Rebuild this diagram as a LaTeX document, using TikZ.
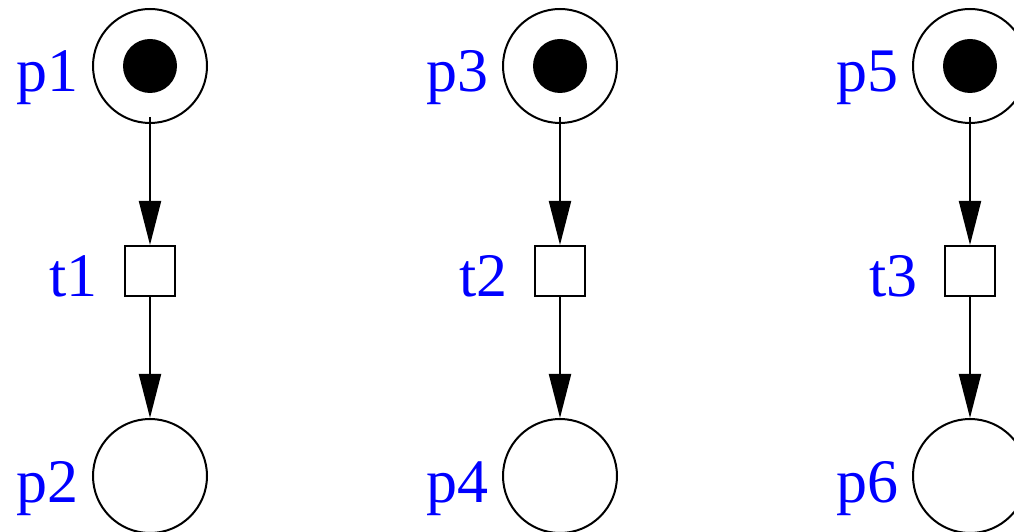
\documentclass[tikz,border=0pt]{standalone}
\usepackage{fontspec}
\setmainfont{Liberation Serif}
\usetikzlibrary{arrows.meta}
\tikzset{
  place/.style={circle, draw, line width=2bp, minimum size=114bp, inner sep=0pt},
  token/.style={circle, fill=black, minimum size=54bp, inner sep=0pt},
  trans/.style={rectangle, draw, line width=2bp, minimum size=50bp, inner sep=0pt},
  lbl/.style={text=blue, inner sep=0pt, anchor=base east, font=\fontsize{62.2}{70}\selectfont},
  arc/.style={line width=2bp, -{Triangle[length=44bp, width=22bp]}},
}
\begin{document}
\begin{tikzpicture}[x=1bp, y=-1bp]
\useasboundingbox (0,0) rectangle (1014,532);
\clip (0,0) rectangle (1014,532);
\foreach \c/\a/\t/\b/\px in {1/1/1/2/150, 2/3/2/4/560, 3/5/3/6/970}{
  \node[place] (p\a) at (\px,66) {};
  \node[token] (k\a) at (p\a.center) {};
  \node[trans] (t\t) at (\px,271) {};
  \node[place] (p\b) at (\px,476) {};
  \node[lbl] (lp\a) at ([xshift=-71bp, yshift=-26bp]p\a.center) {p\a};
  \node[lbl] (lt\t) at ([xshift=-52bp, yshift=-26bp]t\t.center) {t\t};
  \node[lbl] (lp\b) at ([xshift=-71bp, yshift=-26bp]p\b.center) {p\b};
  \draw[arc, shorten <=-7bp] (p\a.south) -- (t\t.north);
  \draw[arc] (t\t.south) -- (p\b.north);
}
\end{tikzpicture}
\end{document}
